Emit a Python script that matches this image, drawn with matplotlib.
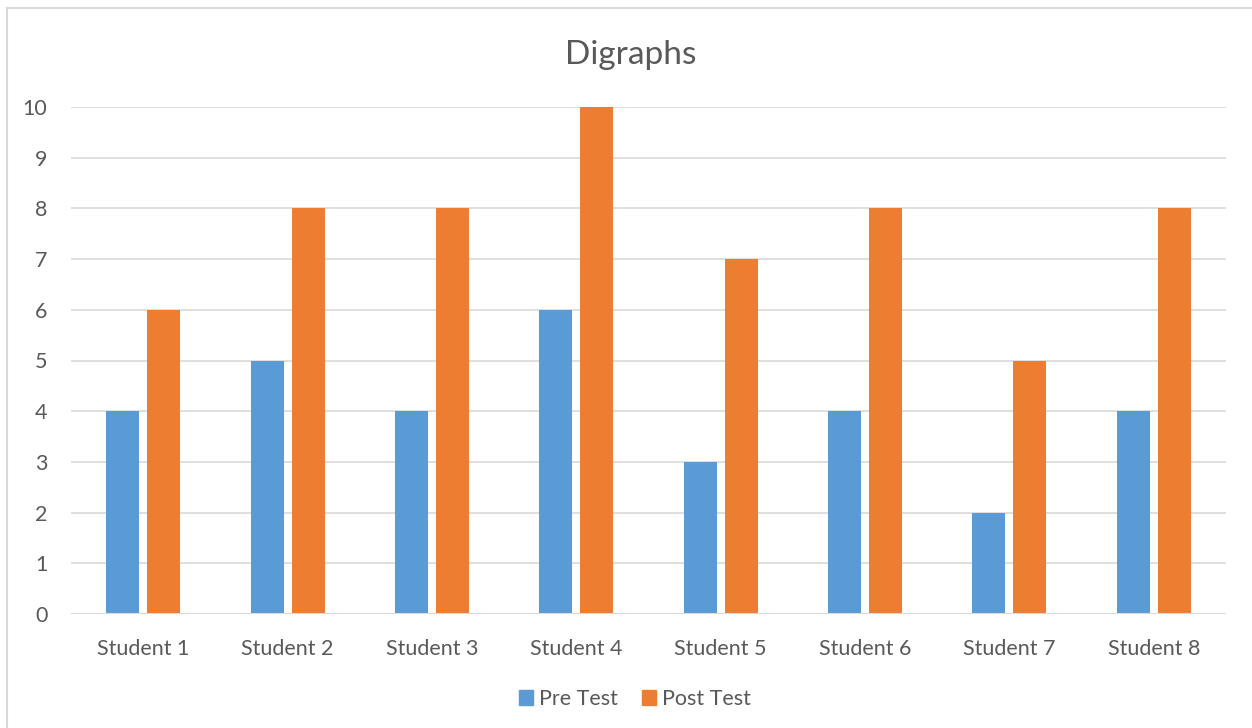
import numpy as np
import matplotlib.pyplot as plt
from matplotlib.patches import Patch

# scores per student
students = ["Student 1", "Student 2", "Student 3", "Student 4",
            "Student 5", "Student 6", "Student 7", "Student 8"]
pre_test = [4, 5, 4, 6, 3, 4, 2, 4]
post_test = [6, 8, 8, 10, 7, 8, 5, 8]

BLUE = "#5b9bd5"
ORANGE = "#ed7d31"
TEXT = "#595959"
GRID = "#d9d9d9"

plt.rcParams['font.family'] = ['Lato', 'DejaVu Sans']

fig = plt.figure(figsize=(12.52, 7.28), dpi=100)
W, H = 1252, 728

# chart frame (left and top edges visible)
fig.add_artist(plt.Line2D([7 / W, 7 / W], [0, 1 - 8 / H], color=GRID, lw=1.5))
fig.add_artist(plt.Line2D([7 / W, 1], [1 - 8 / H, 1 - 8 / H], color=GRID, lw=1.5))

ax = fig.add_axes([71 / W, 1 - 614 / H, (1226 - 71) / W, (614 - 107) / H])

x = np.arange(len(students))
w = 0.228
off = 0.142
ax.bar(x - off, pre_test, width=w, color=BLUE, zorder=3)
ax.bar(x + off, post_test, width=w, color=ORANGE, zorder=3)

ax.set_xlim(-0.5, len(students) - 0.5)
ax.set_ylim(0, 10)
ax.set_yticks(range(0, 11))
ax.set_xticks(x)
ax.set_xticklabels(students)
ax.grid(axis='y', color=GRID, lw=1.2, zorder=0)
for s in ax.spines.values():
    s.set_visible(False)
ax.axhline(0, color=GRID, lw=1.5, zorder=4)
ax.tick_params(axis='both', length=0, labelsize=15.5, labelcolor=TEXT)
ax.tick_params(axis='x', pad=18)
ax.tick_params(axis='y', pad=17)

fig.text(631 / W, 1 - 55 / H, "Digraphs", ha='center', va='center',
         fontsize=24, color=TEXT)

handles = [Patch(color=BLUE, label="Pre Test"), Patch(color=ORANGE, label="Post Test")]
fig.legend(handles=handles, loc='center', bbox_to_anchor=(635 / W, 1 - 699 / H),
           ncol=2, frameon=False, fontsize=15.5, labelcolor=TEXT,
           handlelength=0.65, handleheight=0.65, handletextpad=0.3, columnspacing=1.1)

fig.savefig("out.png", dpi=100, facecolor='white')
